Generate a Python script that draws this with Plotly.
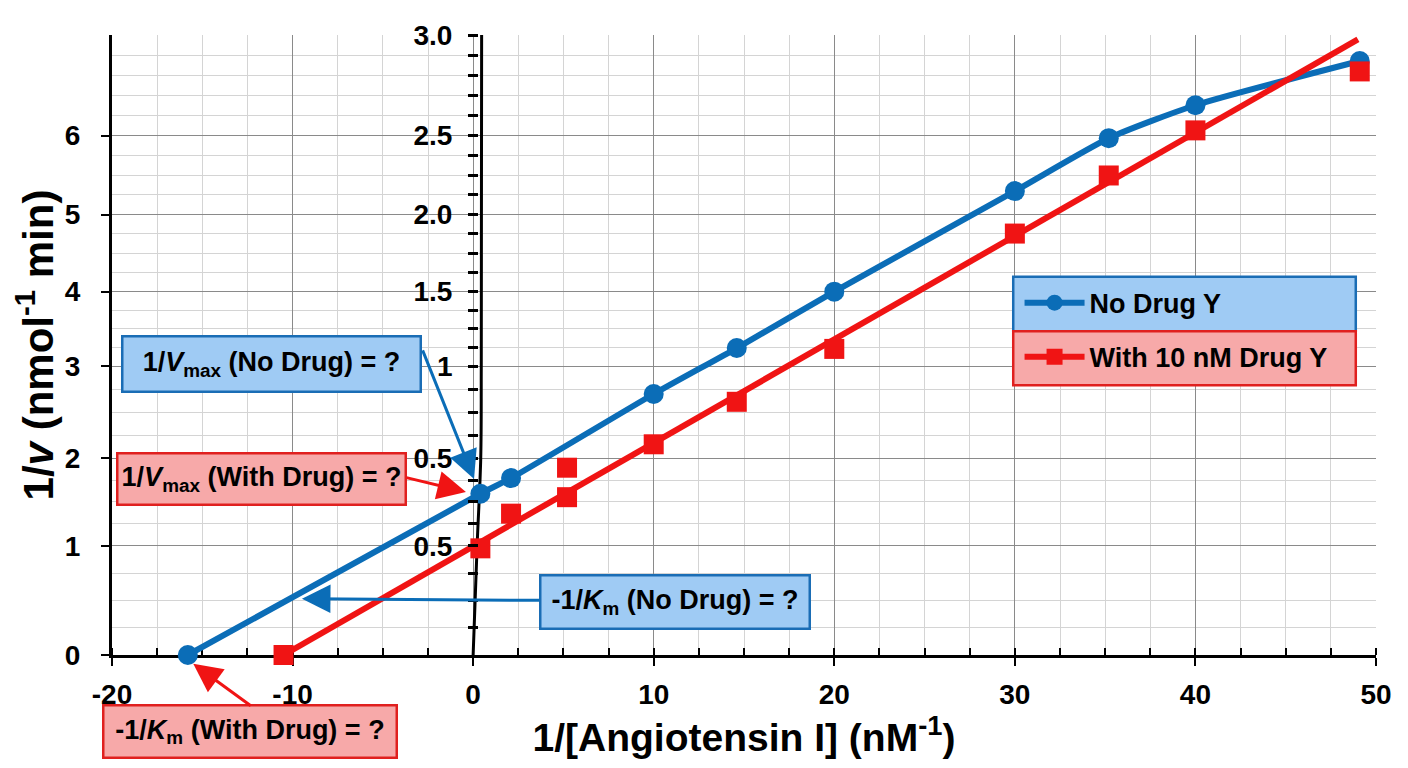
import numpy as np
import plotly.graph_objects as go

# Lineweaver-Burk data (y in the plot's own linear units)
blue_x = [-15.8, 0.4, 2.1, 10, 14.6, 20, 30, 35.2, 40, 49.1]
blue_y = [0, 1.86, 2.04, 3.01, 3.54, 4.19, 5.35, 5.96, 6.34, 6.85]

red_x = [-10.5, 0.4, 2.1, 5.2, 5.2, 10, 14.6, 20, 30, 35.2, 40, 49.1]
red_y = [0, 1.23, 1.63, 2.16, 1.82, 2.43, 2.92, 3.53, 4.86, 5.53, 6.05, 6.73]

red_fit_x = [-10.5, 49]
red_fit_y = [0, 7.1]

# the bent "axis" drawn near x = 0
curve_x = [0, 0.22, 0.42, 0.45, 0.47]
curve_y = [0, 1.26, 2.27, 3.33, 7.15]

x_tick_vals = [-20, -10, 0, 10, 20, 30, 40, 50]
x_tick_text = ["-20", "-10", "0", "10", "20", "30", "40", "50"]
left_tick_vals = [0, 1.26, 2.27, 3.33, 4.19, 5.08, 5.99]
left_tick_text = ["0", "1", "2", "3", "4", "5", "6"]
right_tick_vals = [1.26, 2.27, 3.33, 4.19, 5.08, 5.99, 7.149]
right_tick_text = ["0.5", "0.5", "1", "1.5", "2.0", "2.5", "3.0"]

Y_TOP = 7.15
BLUE = "#0b6db7"
RED = "#f01414"
FONT = "Liberation Sans, Arial, sans-serif"

# minor grid: split each major interval in four (five for the top one)
edges = left_tick_vals + [Y_TOP]
minor_y = []
for a, b in zip(edges[:-1], edges[1:]):
    n = 5 if b == Y_TOP else 4
    minor_y += list(np.linspace(a, b, n + 1)[1:-1])
minor_y.append(Y_TOP - 0.001)

fig = go.Figure()

fig.add_trace(go.Scatter(x=curve_x, y=curve_y, mode="lines", line=dict(color="black", width=3, shape="spline"),
                         showlegend=False, hoverinfo="skip"))

fig.add_trace(go.Scatter(x=blue_x, y=blue_y, mode="lines+markers", name="No Drug Y",
                         line=dict(color=BLUE, width=6, shape="spline", smoothing=0.6),
                         marker=dict(symbol="circle", size=20, color=BLUE),
                         cliponaxis=False, legendgroup="a", legendrank=1))

fig.add_trace(go.Scatter(x=red_fit_x, y=red_fit_y, mode="lines", line=dict(color=RED, width=6),
                         showlegend=False, cliponaxis=False))
fig.add_trace(go.Scatter(x=red_x, y=red_y, mode="markers", marker=dict(symbol="square", size=20, color=RED),
                         showlegend=False, cliponaxis=False))
# legend entry for the red series (line + square)
fig.add_trace(go.Scatter(x=[None], y=[None], mode="lines+markers", name="With 10 nM Drug Y",
                         line=dict(color=RED, width=6), marker=dict(symbol="square", size=20, color=RED),
                         legendgroup="b", legendrank=2))

# dummy trace so the second y axis exists
fig.add_trace(go.Scatter(x=[None], y=[None], yaxis="y2", showlegend=False))

# legend backgrounds
fig.add_shape(type="rect", xref="paper", yref="paper", x0=0.713, x1=0.984, y0=0.522, y1=0.610,
              fillcolor="#9fcbf4", line=dict(color="#1a6db5", width=2.5), layer="above")
fig.add_shape(type="rect", xref="paper", yref="paper", x0=0.713, x1=0.984, y0=0.435, y1=0.522,
              fillcolor="#f7a9a9", line=dict(color="#e0201f", width=2.5), layer="above")

# label boxes: text, x (data), y, y reference, width, height, fill, border
boxes = [
    ("1/<i>V</i><sub>max</sub> (No Drug) = ?", -11.14, 3.36, "y", 290, 47, "#9fcbf4", "#1a6db5"),
    ("1/<i>V</i><sub>max</sub> (With Drug) = ?", -11.7, 2.03, "y", 280, 43, "#f7a9a9", "#e0201f"),
    ("-1/<i>K</i><sub>m</sub> (No Drug) = ?", 11.2, 0.615, "y", 261, 45, "#9fcbf4", "#1a6db5"),
    ("-1/<i>K</i><sub>m</sub> (With Drug) = ?", -12.36, -0.1226, "paper", 285, 44, "#f7a9a9", "#e0201f"),
]
for text, bx, by, yr, w, h, fill, edge in boxes:
    fig.add_annotation(x=bx, y=by, yref=yr, text=text, showarrow=False, width=w, height=h,
                       xanchor="center", yanchor="middle",
                       bgcolor=fill, bordercolor=edge, borderwidth=2.5, borderpad=3,
                       font=dict(family=FONT, size=27, color="black", weight="bold"))

arrows = [
    (0.05, 2.03, -2.83, 3.53, BLUE),
    (-0.4, 1.88, -3.78, 2.05, RED),
    (-9.48, 0.65, 3.75, 0.63, BLUE),
]
for tx, ty, sx, sy, col in arrows:
    fig.add_annotation(x=tx, y=ty, ax=sx, ay=sy, axref="x", ayref="y", text="", showarrow=True,
                       arrowhead=2, arrowsize=1.9, arrowwidth=3, arrowcolor=col)
# arrow from the box below the axis (tail given in pixels)
fig.add_annotation(x=-15.5, y=-0.0143, yref="paper", ax=59, ay=43, text="", showarrow=True,
                   arrowhead=2, arrowsize=1.9, arrowwidth=3, arrowcolor=RED)

fig.update_layout(
    width=1408, height=768,
    margin=dict(l=104, r=40, t=19, b=121),
    plot_bgcolor="white", paper_bgcolor="white",
    font=dict(family=FONT, color="black"),
    xaxis=dict(
        range=[-20, 50], tickvals=x_tick_vals, ticktext=x_tick_text,
        showgrid=True, gridcolor="#8a8a8a", gridwidth=1, zeroline=False,
        showline=True, linecolor="black", linewidth=3, layer="below traces",
        ticks="outside", ticklen=8, tickwidth=2, tickcolor="black",
        minor=dict(dtick=2.5, showgrid=True, gridcolor="#d4d4d4", gridwidth=1,
                   ticks="inside", ticklen=7, tickwidth=2, tickcolor="black"),
        tickfont=dict(size=28, weight="bold"), ticklabelstandoff=4,
        title=dict(text="1/[Angiotensin I] (nM<sup>-1</sup>)", font=dict(size=39, weight="bold"), standoff=8),
    ),
    yaxis=dict(
        range=[0, Y_TOP], tickvals=left_tick_vals, ticktext=left_tick_text,
        showgrid=True, gridcolor="#8a8a8a", gridwidth=1, zeroline=False,
        showline=True, linecolor="black", linewidth=3, layer="below traces",
        ticks="outside", ticklen=8, tickwidth=2, tickcolor="black",
        minor=dict(tickmode="array", tickvals=minor_y, showgrid=True, gridcolor="#d4d4d4", gridwidth=1, ticks=""),
        tickfont=dict(size=28, weight="bold"), ticklabelstandoff=15,
        title=dict(text="1/<i>v</i> (nmol<sup>-1</sup> min)", font=dict(size=42, weight="bold"), standoff=8),
    ),
    yaxis2=dict(
        range=[0, Y_TOP], overlaying="y", anchor="free", position=0.2896, side="left",
        tickvals=right_tick_vals, ticktext=right_tick_text, showgrid=False, zeroline=False, showline=False,
        ticks="outside", ticklen=10, tickwidth=2.5, tickcolor="black",
        minor=dict(tickmode="array", tickvals=minor_y, ticks="outside", ticklen=10, tickwidth=2.5,
                   tickcolor="black", showgrid=False),
        tickfont=dict(size=28, weight="bold"), ticklabelstandoff=10,
    ),
    legend=dict(x=0.718, y=0.607, xanchor="left", yanchor="top", bgcolor="rgba(0,0,0,0)",
                font=dict(size=27, weight="bold"), itemwidth=60, tracegroupgap=16,
                traceorder="grouped"),
    showlegend=True,
)

fig.write_html("out.html")
